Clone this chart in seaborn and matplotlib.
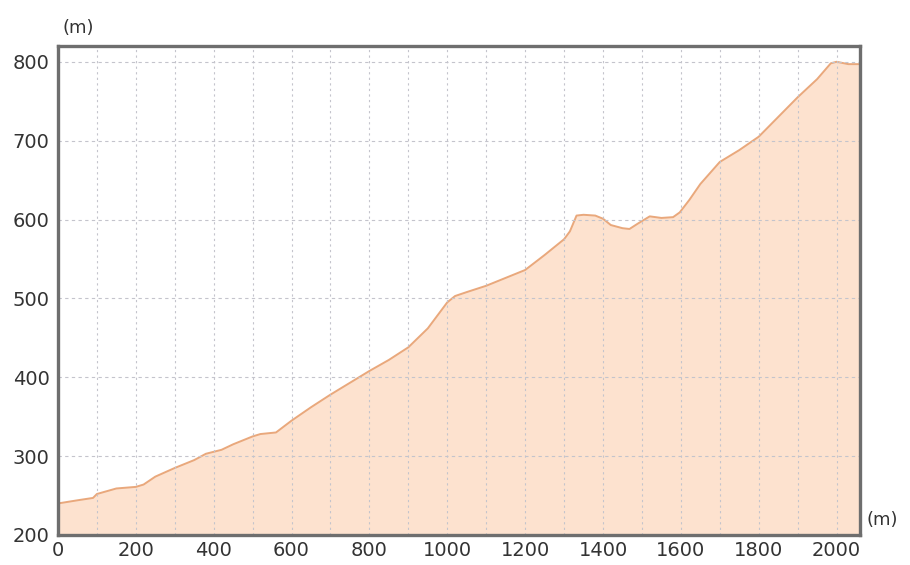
import seaborn as sns
import matplotlib.pyplot as plt
import pandas as pd

# distance along the route (m) and elevation (m)
distance = [0, 50, 90, 100, 150, 200, 220, 250, 300, 350, 380, 420, 450, 500,
            520, 560, 600, 650, 700, 750, 800, 850, 900, 950, 1000, 1020, 1050,
            1100, 1150, 1200, 1250, 1300, 1315, 1332, 1350, 1380, 1400, 1420,
            1450, 1468, 1490, 1520, 1550, 1580, 1597, 1622, 1650, 1700, 1750,
            1800, 1850, 1900, 1950, 1985, 2000, 2030, 2058]
elevation = [240, 244, 247, 252, 259, 261, 264, 274, 285, 295, 303, 308, 315, 325,
             328, 330, 345, 362, 378, 393, 408, 422, 438, 462, 495, 503, 508,
             516, 526, 536, 555, 575, 585, 605, 606, 605, 601, 593,
             589, 588, 595, 604, 602, 603, 609, 625, 645, 673, 688,
             705, 730, 755, 778, 798, 800, 797, 797]

x_ticks = [0, 200, 400, 600, 800, 1000, 1200, 1400, 1600, 1800, 2000]
y_ticks = [200, 300, 400, 500, 600, 700, 800]

df = pd.DataFrame({"distance": distance, "elevation": elevation})

sns.set_style("white")
plt.rcParams['font.family'] = ['DejaVu Sans']

fig = plt.figure(figsize=(9.1, 5.65), dpi=100)
ax = fig.add_axes([0.0637, 0.0531, 0.8813, 0.8655])

# fill under the profile, then the outline on top
ax.fill_between(df["distance"], df["elevation"], 200, color="#fde2cf", zorder=1)
sns.lineplot(data=df, x="distance", y="elevation", ax=ax, color="#e9a87c",
             linewidth=1.4, zorder=2)

ax.set_xlim(0, 2060)
ax.set_ylim(200, 820)

# dashed grid: every 100 m along x, every 100 m up
ax.set_xticks(x_ticks)
ax.set_xticks(range(100, 2060, 200), minor=True)
ax.set_yticks(y_ticks)
ax.grid(True, which="both", axis="x", color="#c4c4cc", linestyle=(0, (2, 3)), linewidth=0.8, zorder=3)
ax.grid(True, which="major", axis="y", color="#c4c4cc", linestyle=(0, (3, 3)), linewidth=0.8, zorder=3)
ax.set_axisbelow(False)

ax.tick_params(axis="both", which="both", length=0, labelsize=14, colors="#333333")
ax.tick_params(axis="y", pad=6)
ax.tick_params(axis="x", pad=4)

for side in ax.spines.values():
    side.set_color("#6e6e6e")
    side.set_linewidth(2.4)
    side.set_zorder(5)

ax.set_xlabel("")
ax.set_ylabel("")

fig.text(0.0857, 0.935, "(m)", fontsize=13, color="#333333", ha="center", va="bottom")
fig.text(0.952, 0.063, "(m)", fontsize=13, color="#333333", ha="left", va="bottom")

fig.savefig("out.png", dpi=100)
